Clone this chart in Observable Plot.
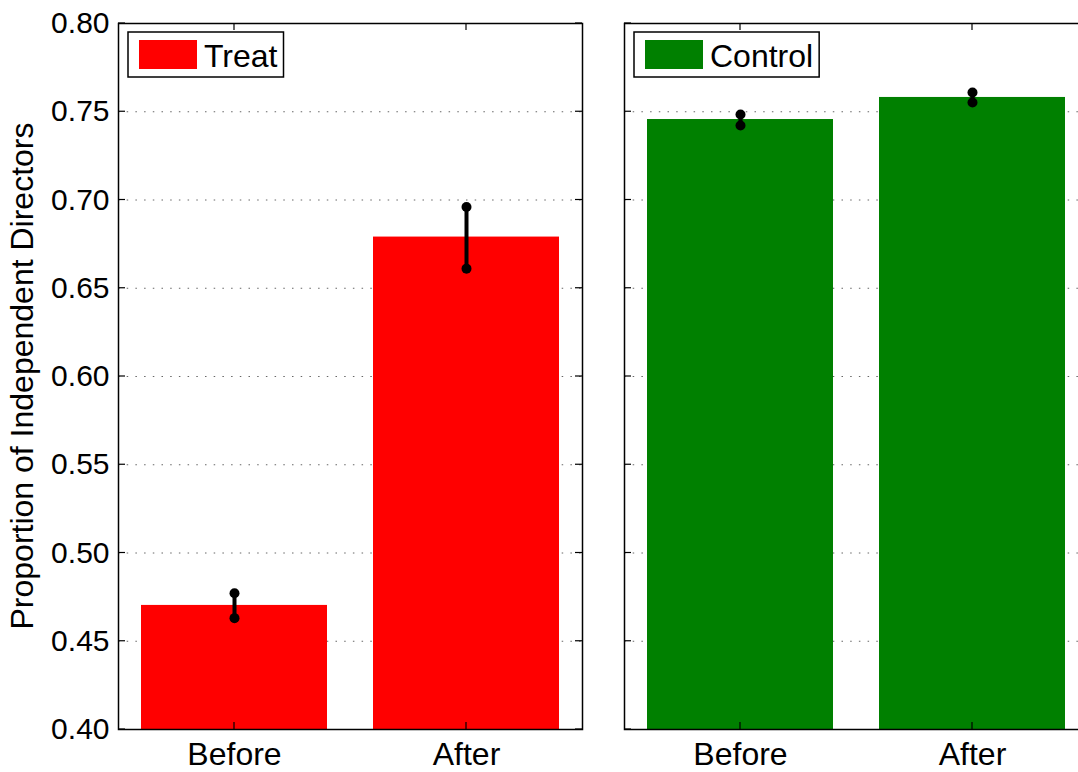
<!DOCTYPE html>
<html>
<head>
<meta charset="utf-8">
<script src="https://cdn.jsdelivr.net/npm/d3@7"></script>
<script src="https://cdn.jsdelivr.net/npm/@observablehq/plot@0.6"></script>
<style>
  html, body { margin: 0; padding: 0; background: #fff; }
  #wrap { width: 1078px; height: 772px; overflow: hidden; display: flex; flex-direction: row; }
  #wrap svg { flex: none; display: block; }
</style>
</head>
<body>
<div id="wrap"></div>
<script>
const categories = ["Before", "After"];
const treatMeans = [0.4703, 0.6790];
const treatLow   = [0.4631, 0.6611];
const treatHigh  = [0.4772, 0.6960];
const controlMeans = [0.7456, 0.7581];
const controlLow   = [0.7422, 0.7552];
const controlHigh  = [0.7484, 0.7609];
const yTicks = [0.40, 0.45, 0.50, 0.55, 0.60, 0.65, 0.70, 0.75, 0.80];
const seriesNames = ["Treat", "Control"];
const seriesColors = ["#ff0000", "#008000"];
const yTitle = "Proportion of Independent Directors";

const FONT = "Liberation Sans, Arial, Helvetica, sans-serif";

function rows(means, low, high) {
  return categories.map((c, i) => ({cat: c, mean: means[i], low: low[i], high: high[i]}));
}

const measureCtx = document.createElement("canvas").getContext("2d");
function textWidth(s, size) {
  measureCtx.font = `${size}px ${FONT}`;
  return measureCtx.measureText(s).width;
}

function panel({data, name, color, width, marginLeft, marginRight, showY}) {
  const inwardTicks = (index, scales, values, dims) => {
    const g = d3.create("svg:g").attr("stroke", "black").attr("stroke-width", 1.2);
    const L = dims.marginLeft, R = dims.width - dims.marginRight;
    const T = dims.marginTop, B = dims.height - dims.marginBottom;
    const bw = typeof scales.x.bandwidth === "function" ? scales.x.bandwidth() : (scales.x.bandwidth || 0);
    for (const t of yTicks) {
      const yy = scales.y(t);
      g.append("line").attr("x1", L).attr("x2", L + 7).attr("y1", yy).attr("y2", yy);
      g.append("line").attr("x1", R - 7).attr("x2", R).attr("y1", yy).attr("y2", yy);
    }
    for (const c of categories) {
      const xx = scales.x(c) + bw / 2;
      g.append("line").attr("x1", xx).attr("x2", xx).attr("y1", T).attr("y2", T + 7);
      g.append("line").attr("x1", xx).attr("x2", xx).attr("y1", B - 7).attr("y2", B);
    }
    return g.node();
  };
  const legend = (index, scales, values, dims) => {
    const g = d3.create("svg:g");
    const x0 = dims.marginLeft + 10;
    const fs = 32;
    const boxW = 76 + textWidth(name, fs) + 6;
    g.append("rect").attr("x", x0).attr("y", 32).attr("width", boxW).attr("height", 45)
      .attr("fill", "white").attr("stroke", "black").attr("stroke-width", 1.5);
    g.append("rect").attr("x", x0 + 11).attr("y", 40).attr("width", 58).attr("height", 29)
      .attr("fill", color);
    g.append("text").attr("x", x0 + 76).attr("y", 66.5)
      .attr("text-anchor", "start")
      .attr("font-family", FONT).attr("font-size", fs).attr("fill", "black").text(name);
    return g.node();
  };
  const title = (index, scales, values, dims) => {
    const cy = (dims.marginTop + dims.height - dims.marginBottom) / 2;
    return d3.create("svg:text")
      .attr("transform", `translate(25,${cy}) rotate(-90)`)
      .attr("text-anchor", "middle").attr("dominant-baseline", "middle")
      .attr("font-family", FONT).attr("font-size", 32).attr("fill", "black")
      .text(yTitle).node();
  };
  const marks = [
    Plot.gridY(yTicks.slice(1, -1), {stroke: "#666", strokeOpacity: 1, strokeWidth: 1, strokeDasharray: "1.5,7.2"}),
    Plot.barY(data, {x: "cat", y1: () => 0.4, y2: "mean", fill: color}),
    Plot.ruleX(data, {x: "cat", y1: "low", y2: "high", stroke: "black", strokeWidth: 4}),
    Plot.dot(data, {x: "cat", y: "low", r: 5, fill: "black"}),
    Plot.dot(data, {x: "cat", y: "high", r: 5, fill: "black"}),
    Plot.frame({stroke: "black", strokeWidth: 1.5}),
    inwardTicks,
    Plot.axisX({tickSize: 0, tickPadding: 13, fontSize: 32, label: null, fill: "black"}),
    legend
  ];
  if (showY) {
    marks.push(Plot.axisY(yTicks, {tickSize: 0, tickPadding: 9, fontSize: 30, tickFormat: d3.format(".2f"), label: null, fill: "black"}));
    marks.push(title);
  }
  return Plot.plot({
    width, height: 772,
    marginLeft, marginRight, marginTop: 23, marginBottom: 43,
    style: {fontFamily: FONT, color: "black", background: "white", overflow: "visible"},
    x: {domain: categories, paddingInner: 0.2, paddingOuter: 0.1, axis: null},
    y: {domain: [0.4, 0.8], axis: null},
    marks
  });
}

const wrap = document.getElementById("wrap");
wrap.appendChild(panel({data: rows(treatMeans, treatLow, treatHigh), name: seriesNames[0], color: seriesColors[0], width: 603, marginLeft: 118, marginRight: 21, showY: true}));
wrap.appendChild(panel({data: rows(controlMeans, controlLow, controlHigh), name: seriesNames[1], color: seriesColors[1], width: 487, marginLeft: 21, marginRight: 2, showY: false}));
</script>
</body>
</html>
